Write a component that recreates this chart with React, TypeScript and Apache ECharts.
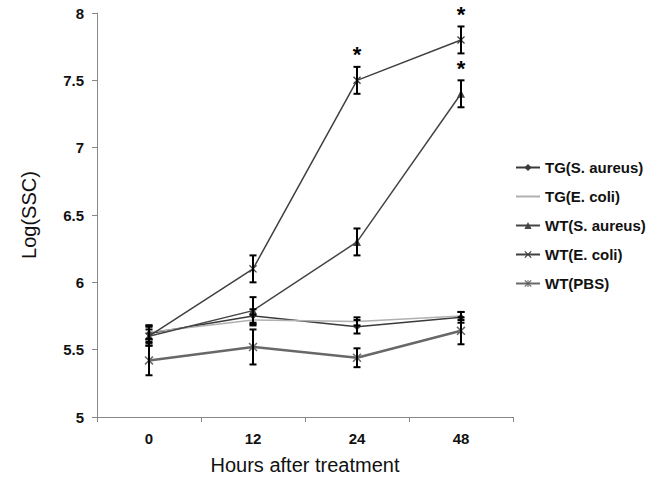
import React, { useEffect, useRef } from "react";
import * as echarts from "echarts";

const categories = ["0", "12", "24", "48"];
const seriesNames = ["TG(S. aureus)", "TG(E. coli)", "WT(S. aureus)", "WT(E. coli)", "WT(PBS)"];
const tgSaureus = [5.62, 5.75, 5.67, 5.74];
const tgSaureusErr = [0.06, 0.05, 0.05, 0.04];
const tgEcoli = [5.63, 5.72, 5.71, 5.75];
const tgEcoliErr = [0.05, 0.04, 0.03, 0.03];
const wtSaureus = [5.6, 5.79, 6.3, 7.4];
const wtSaureusErr = [0.05, 0.1, 0.1, 0.1];
const wtEcoli = [5.6, 6.1, 7.5, 7.8];
const wtEcoliErr = [0.07, 0.1, 0.1, 0.1];
const wtPBS = [5.42, 5.52, 5.44, 5.64];
const wtPBSErr = [0.11, 0.13, 0.07, 0.1];
// significance marks: [series index, category index]
const stars = [
  [3, 2],
  [3, 3],
  [2, 3],
];

const FONT = "Liberation Sans";
const XSYM = "path://M0,1.2L1.2,0L5,3.8L8.8,0L10,1.2L6.2,5L10,8.8L8.8,10L5,6.2L1.2,10L0,8.8L3.8,5Z";
const ASTSYM =
  "path://M0,1.2L1.2,0L5,3.8L8.8,0L10,1.2L6.2,5L10,8.8L8.8,10L5,6.2L1.2,10L0,8.8L3.8,5Z M4.3,0L5.7,0L5.7,10L4.3,10Z";

export default function App() {
  const ref = useRef<HTMLDivElement>(null);
  useEffect(() => {
    document.body.style.margin = "0";
    if (!ref.current) return;
    const chart = echarts.init(ref.current, null, { renderer: "svg" });
    const vals = [tgSaureus, tgEcoli, wtSaureus, wtEcoli, wtPBS];
    const errs = [tgSaureusErr, tgEcoliErr, wtSaureusErr, wtEcoliErr, wtPBSErr];
    const errData: number[][] = [];
    vals.forEach((arr, s) =>
      arr.forEach((v, i) => errData.push([i, v - errs[s][i], v + errs[s][i]]))
    );
    const starData = stars.map(([s, i]) => [i, vals[s][i] + errs[s][i]]);

    const lineStyles = [
      { color: "#3a3a3a", width: 1.5, symbol: "diamond", size: 7 },
      { color: "#b0b0b0", width: 1.5, symbol: "none", size: 0 },
      { color: "#454545", width: 1.5, symbol: "triangle", size: 8 },
      { color: "#404040", width: 1.5, symbol: XSYM, size: 8 },
      { color: "#686868", width: 2.5, symbol: ASTSYM, size: 9 },
    ];

    const lineSeries = seriesNames.map((name, s) => ({
      name,
      type: "line",
      data: vals[s],
      symbol: lineStyles[s].symbol,
      symbolSize: lineStyles[s].size,
      showSymbol: lineStyles[s].symbol !== "none",
      itemStyle: { color: lineStyles[s].color },
      lineStyle: { color: lineStyles[s].color, width: lineStyles[s].width },
      z: 2,
    }));

    chart.setOption({
      animation: false,
      backgroundColor: "#ffffff",
      grid: { left: 97, right: 149, top: 13, bottom: 73 },
      legend: {
        orient: "vertical",
        left: 515,
        top: 160,
        padding: 0,
        itemWidth: 24,
        itemHeight: 9,
        itemGap: 14,
        data: seriesNames.map((name, s) =>
          s === 1 ? { name, itemStyle: { opacity: 0 } } : { name }
        ),
        textStyle: { fontFamily: FONT, fontWeight: "bold", fontSize: 15, color: "#111" },
      },
      xAxis: {
        type: "category",
        data: categories,
        boundaryGap: true,
        axisLine: { lineStyle: { color: "#888", width: 1 } },
        axisTick: { show: true, length: 5, lineStyle: { color: "#888" } },
        axisLabel: { fontFamily: FONT, fontWeight: "bold", fontSize: 15, color: "#111", margin: 14 },
        name: "Hours after treatment",
        nameLocation: "middle",
        nameGap: 38,
        nameTextStyle: { fontFamily: FONT, fontSize: 20, color: "#111" },
      },
      yAxis: {
        type: "value",
        min: 5,
        max: 8,
        interval: 0.5,
        axisLine: { show: true, lineStyle: { color: "#888", width: 1 } },
        axisTick: { show: true, length: 5, lineStyle: { color: "#888" } },
        splitLine: { show: false },
        axisLabel: { fontFamily: FONT, fontWeight: "bold", fontSize: 15, color: "#111", margin: 13 },
        name: "Log(SSC)",
        nameLocation: "middle",
        nameGap: 58,
        nameTextStyle: { fontFamily: FONT, fontSize: 20, color: "#111" },
      },
      series: [
        ...lineSeries,
        {
          type: "custom",
          data: errData,
          z: 5,
          silent: true,
          renderItem: (params: any, api: any) => {
            const x = api.value(0);
            const lo = api.coord([x, api.value(1)]);
            const hi = api.coord([x, api.value(2)]);
            const hw = 3.5;
            const style = { stroke: "#000", lineWidth: 2 };
            return {
              type: "group",
              children: [
                { type: "line", shape: { x1: lo[0], y1: lo[1], x2: hi[0], y2: hi[1] }, style },
                { type: "line", shape: { x1: lo[0] - hw, y1: lo[1], x2: lo[0] + hw, y2: lo[1] }, style },
                { type: "line", shape: { x1: hi[0] - hw, y1: hi[1], x2: hi[0] + hw, y2: hi[1] }, style },
              ],
            };
          },
        },
        {
          type: "custom",
          data: starData,
          z: 6,
          silent: true,
          renderItem: (params: any, api: any) => {
            const p = api.coord([api.value(0), api.value(1)]);
            return {
              type: "text",
              x: p[0],
              y: p[1] - 1,
              style: {
                text: "*",
                fill: "#000",
                font: "bold 22px " + FONT,
                align: "center",
                verticalAlign: "bottom",
              },
            };
          },
        },
      ],
    });
    return () => chart.dispose();
  }, []);
  return <div ref={ref} style={{ width: 662, height: 490 }} />;
}
